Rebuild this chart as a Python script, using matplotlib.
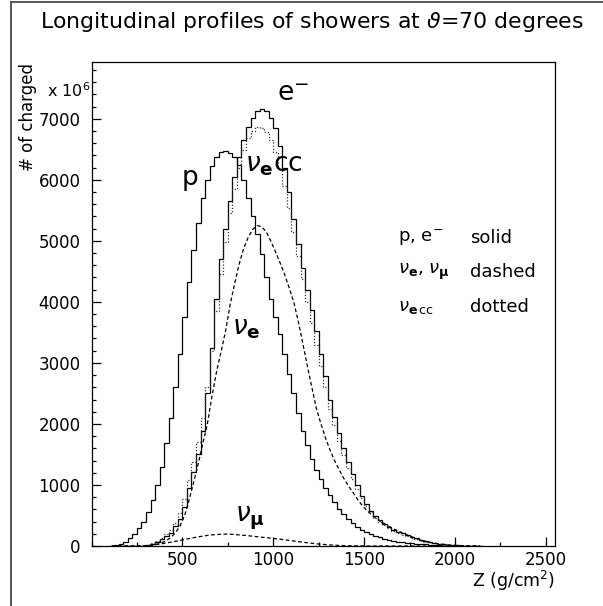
import numpy as np
import matplotlib
matplotlib.use("Agg")
import matplotlib.pyplot as plt
from matplotlib.lines import Line2D
from matplotlib.ticker import MultipleLocator

# depth bins (g/cm^2): 25 wide, starting at 100
Z_LO = 100
Z_STEP = 25

# number of charged particles (x 10^6) per depth bin
p_prof = [0, 15, 35, 70, 130, 200, 290, 400, 560, 760,
          1000, 1300, 1680, 2100, 2600, 3150, 3750, 4330, 4850, 5300,
          5700, 6000, 6220, 6380, 6450, 6470, 6440, 6370, 6250, 6000,
          5700, 5400, 5120, 4780, 4400, 4050, 3750, 3480, 3150, 2820,
          2500, 2180, 1890, 1650, 1430, 1250, 1090, 950, 830, 720,
          610, 520, 440, 370, 310, 265, 225, 190, 160, 140,
          120, 100, 85, 72, 62, 53, 45, 38, 31, 25,
          20, 15, 11, 8, 5, 3, 1, 0, 0, 0,
          0, 0]

e_prof = [0, 0, 0, 0, 0, 0, 0, 5, 15, 40,
          70, 110, 160, 220, 320, 440, 640, 950, 1220, 1500,
          1880, 2500, 3250, 4050, 4700, 5200, 5650, 6050, 6380, 6650,
          6870, 7020, 7120, 7160, 7130, 7020, 6850, 6550, 6200, 5800,
          5350, 4950, 4550, 4200, 3870, 3520, 3150, 2780, 2400, 2120,
          1850, 1600, 1380, 1180, 1000, 820, 690, 580, 490, 420,
          360, 310, 270, 235, 205, 180, 150, 125, 100, 80,
          65, 50, 40, 30, 22, 16, 11, 7, 4, 2,
          1, 0]

nuecc_prof = [0, 0, 0, 0, 0, 0, 3, 8, 20, 45,
              85, 135, 195, 270, 380, 540, 770, 1080, 1380, 1700,
              2100, 2600, 3200, 3850, 4450, 4980, 5450, 5850, 6200, 6480,
              6680, 6800, 6860, 6850, 6780, 6650, 6450, 6200, 5900, 5540,
              5150, 4750, 4380, 4000, 3650, 3300, 2950, 2600, 2250, 1980,
              1720, 1490, 1280, 1100, 930, 780, 650, 550, 465, 395,
              340, 290, 250, 215, 185, 160, 135, 110, 90, 72,
              58, 45, 35, 26, 19, 13, 9, 5, 3, 1,
              0, 0]

nue_prof = [0, 0, 0, 0, 0, 0, 0, 2, 6, 14,
            30, 55, 90, 140, 220, 330, 500, 760, 1050, 1350,
            1680, 2000, 2450, 2850, 3180, 3520, 3950, 4300, 4620, 4880,
            5060, 5190, 5250, 5230, 5140, 4990, 4820, 4640, 4450, 4230,
            4000, 3680, 3320, 2950, 2600, 2250, 2000, 1770, 1570, 1400,
            1250, 1110, 990, 880, 770, 670, 590, 520, 460, 410,
            365, 320, 280, 245, 210, 180, 150, 122, 98, 78,
            60, 46, 35, 26, 19, 13, 8, 5, 3, 1,
            0, 0]

numu_prof = [0, 0, 0, 0, 0, 0, 2, 5, 10, 17,
             26, 37, 50, 63, 77, 92, 107, 122, 137, 150,
             162, 173, 182, 188, 193, 195, 193, 188, 182, 175,
             168, 160, 152, 144, 136, 128, 120, 111, 102, 92,
             82, 72, 62, 53, 44, 36, 29, 23, 17, 13,
             9, 7, 5, 3, 2, 1, 0, 0, 0, 0,
             0, 0, 0, 0, 0, 0, 0, 0, 0, 0,
             0, 0, 0, 0, 0, 0, 0, 0, 0, 0,
             0, 0]

edges = Z_LO + Z_STEP * np.arange(len(p_prof) + 1)
centers = 0.5 * (edges[:-1] + edges[1:])

plt.rcParams["font.family"] = ["DejaVu Sans"]
plt.rcParams["mathtext.fontset"] = "dejavusans"

W, H = 603, 606
fig = plt.figure(figsize=(W / 100, H / 100), dpi=100)
ax = fig.add_axes([91.5 / W, 1 - 546 / H, (555 - 91.5) / W, (546 - 62) / H])

# histograms
ax.stairs(p_prof, edges, color="black", lw=0.9)
ax.stairs(e_prof, edges, color="black", lw=0.9)
ax.stairs(nuecc_prof, edges, color="#333333", lw=0.9, linestyle=(0, (1, 1.5)))
ax.plot(centers, nue_prof, color="black", lw=0.9, linestyle=(0, (3, 2)))
ax.plot(centers, numu_prof, color="black", lw=0.9, linestyle=(0, (3, 2)))

ax.set_xlim(0, 2550)
ax.set_ylim(0, 7930)
ax.xaxis.set_major_locator(MultipleLocator(500))
ax.xaxis.set_minor_locator(MultipleLocator(250))
ax.yaxis.set_major_locator(MultipleLocator(1000))
ax.yaxis.set_minor_locator(MultipleLocator(200))
ax.tick_params(which="both", direction="in", top=False, right=False,
               labelsize=12, width=0.9)
ax.tick_params(which="major", length=6.5)
ax.tick_params(which="minor", length=3.2)
ax.tick_params(axis="y", pad=8)
ax.tick_params(axis="x", pad=3.5)
xt = [500, 1000, 1500, 2000, 2500]
ax.set_xticks(xt)
ax.set_xticklabels([str(v) for v in xt])
for s in ax.spines.values():
    s.set_linewidth(0.9)

# curve labels
big = 19
ax.text(544, 6033, "p", fontsize=big, ha="center", va="center")
ax.text(1110, 7400, r"e$^{-}$", fontsize=big, ha="center", va="center")
ax.text(1005, 6246, r"$\nu_{\mathbf{e}}$cc", fontsize=big, ha="center", va="center")
ax.text(852, 3574, r"$\nu_{\mathbf{e}}$", fontsize=big, ha="center", va="center")
ax.text(874, 459, r"$\nu_{\mathbf{\mu}}$", fontsize=big, ha="center", va="center")

# style key
ax.text(1687, 5049, r"p, e$^{-}$", fontsize=13, ha="left", va="center")
ax.text(2082, 5049, "solid", fontsize=13, ha="left", va="center")
ax.text(1687, 4492, r"$\nu_{\mathbf{e}}$, $\nu_{\mathbf{\mu}}$", fontsize=13, ha="left",
        va="center")
ax.text(2082, 4492, "dashed", fontsize=13, ha="left", va="center")
ax.text(1687, 3918, r"$\nu_{\mathbf{e}\,\mathrm{cc}}$", fontsize=13, ha="left", va="center")
ax.text(2082, 3918, "dotted", fontsize=13, ha="left", va="center")

# axis titles
fig.text(28 / W, 1 - 63 / H, "# of charged", rotation=90, ha="center", va="top", fontsize=12)
fig.text(90 / W, 1 - 91 / H, r"x 10$^{6}$", ha="right", va="center", fontsize=11.5)
fig.text(555 / W, 1 - 569 / H, r"Z (g/cm$^{2}$)", ha="right", va="top", fontsize=12.5)

fig.text(312 / W, 1 - 22 / H, r"Longitudinal profiles of showers at $\vartheta$=70 degrees",
         ha="center", va="center", fontsize=15.8)

# canvas frame
fig.add_artist(Line2D([11 / W, 11 / W], [0, 1 - 2 / H], transform=fig.transFigure,
                      color="#555555", lw=1.4))
fig.add_artist(Line2D([11 / W, 1], [1 - 2 / H, 1 - 2 / H], transform=fig.transFigure,
                      color="#555555", lw=1.4))

fig.savefig("out.png", dpi=100)
